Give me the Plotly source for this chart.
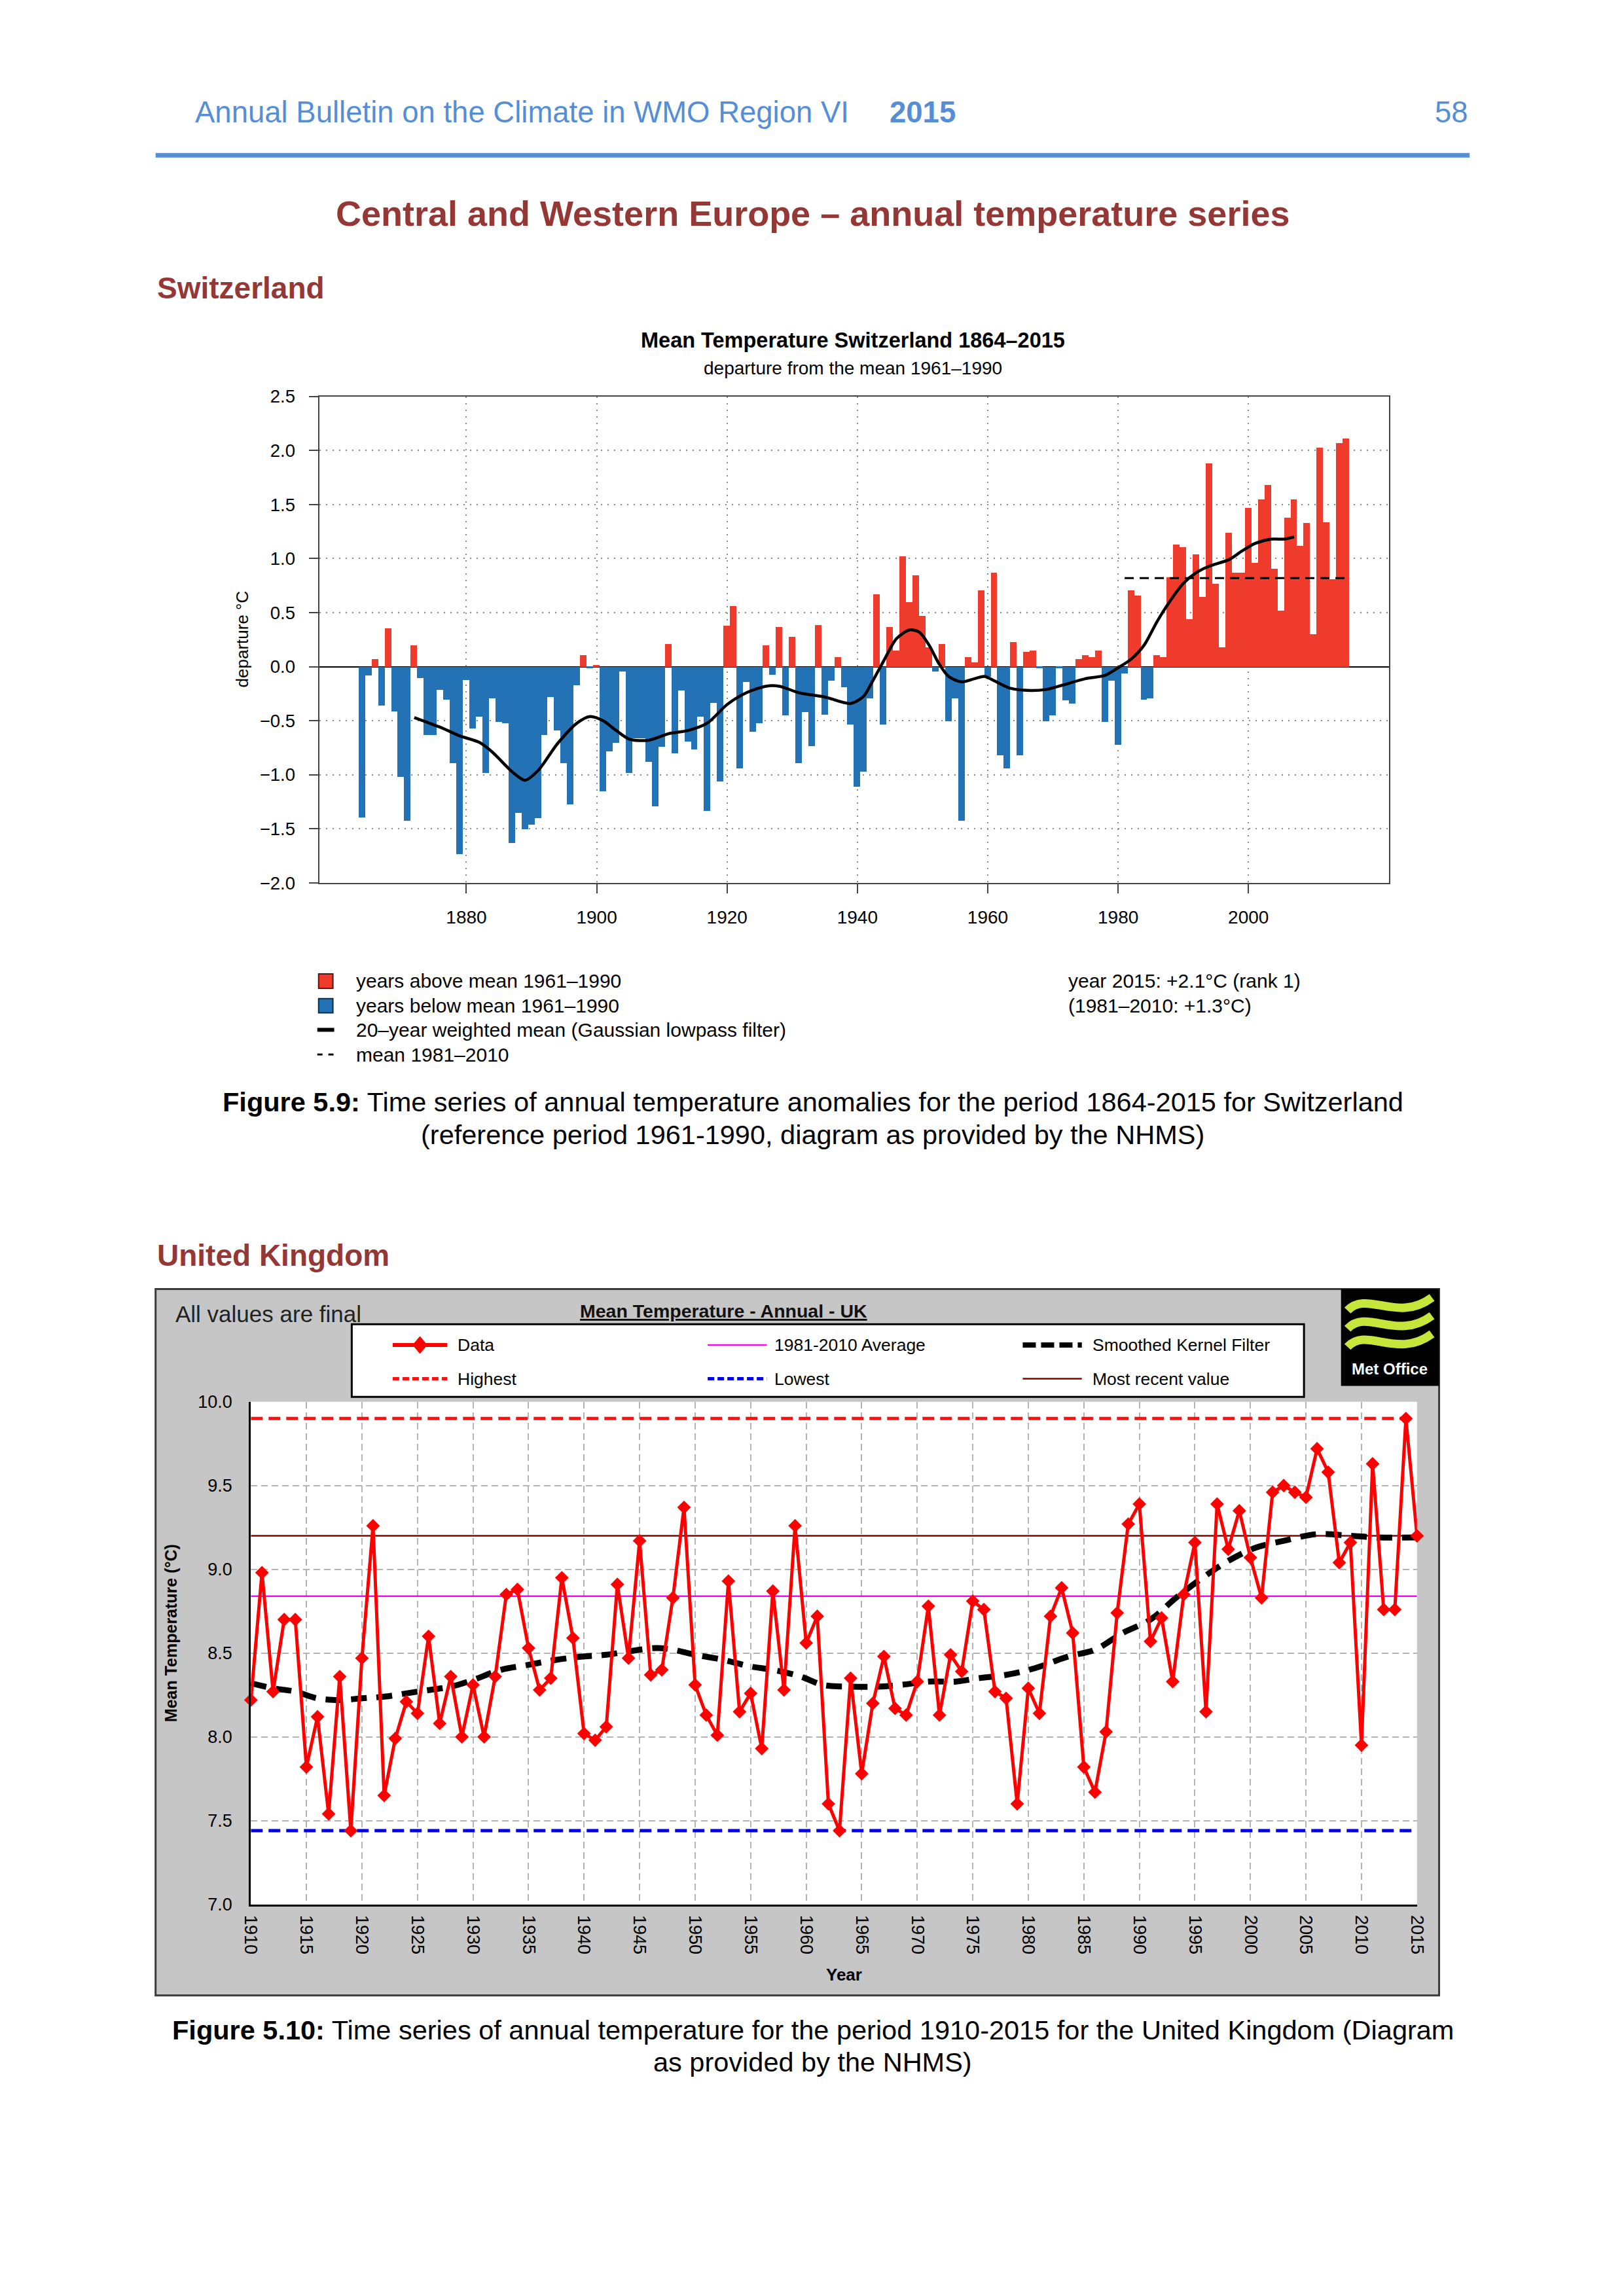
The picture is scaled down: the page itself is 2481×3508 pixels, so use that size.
import plotly.graph_objects as go

W, H = 2481, 3508

# small calibration so that page positions land where they sit on the reference page
OFF_X, SC_X = 14.6, 0.99554
OFF_Y, SC_Y = 16.2, 0.9984


def px(x):
    return ((x - OFF_X) / SC_X) / W


def py(y):
    return 1 - ((y - OFF_Y) / SC_Y) / H


SANS = "Liberation Sans, Arial, sans-serif"
NARROW = "Liberation Sans Narrow, Liberation Sans, Arial, sans-serif"

# ---------------- Switzerland data ----------------
swiss_years = list(range(1864, 2016))
swiss_anom = [
    -1.39, -0.08, 0.07, -0.36, 0.36, -0.41,                      # 1864-1869
    -1.02, -1.42, 0.20, -0.10, -0.63, -0.63, -0.21, -0.30, -0.89, -1.73,  # 1870s
    -0.12, -0.57, -0.46, -0.98, -0.29, -0.51, -0.52, -1.63, -1.35, -1.50,  # 1880s
    -1.46, -1.40, -0.63, -0.28, -0.59, -0.89, -1.27, -0.17, 0.11, -0.01,   # 1890s
    0.02, -1.15, -0.78, -0.70, -0.04, -0.98, -0.66, -0.66, -0.88, -1.29,   # 1900s
    -0.74, 0.21, -0.80, -0.22, -0.69, -0.76, -0.46, -1.33, -0.33, -1.06,   # 1910s
    0.38, 0.56, -0.94, -0.14, -0.60, -0.52, 0.20, -0.07, 0.37, -0.45,      # 1920s
    0.28, -0.89, -0.42, -0.73, 0.39, -0.44, -0.13, 0.09, -0.19, -0.53,     # 1930s
    -1.11, -0.97, -0.29, 0.67, -0.53, 0.37, 0.15, 1.02, 0.60, 0.85,        # 1940s
    0.47, 0.18, -0.04, 0.21, -0.50, -0.29, -1.42, 0.09, 0.04, 0.71,        # 1950s
    -0.09, 0.87, -0.82, -0.94, 0.23, -0.82, 0.14, 0.15, -0.01, -0.50,      # 1960s
    -0.45, -0.01, -0.31, -0.34, 0.07, 0.11, 0.09, 0.15, -0.51, -0.13,      # 1970s
    -0.72, -0.06, 0.71, 0.66, -0.30, -0.29, 0.11, 0.09, 0.83, 1.13,        # 1980s
    1.11, 0.44, 1.04, 0.65, 1.88, 0.77, 0.18, 1.24, 0.87, 0.87,            # 1990s
    1.47, 0.96, 1.55, 1.68, 0.91, 0.52, 1.38, 1.55, 1.12, 1.33,            # 2000s
    0.30, 2.03, 1.34, 0.81, 2.07, 2.11,                                    # 2010-2015
]
swiss_smooth_years = [1872, 1876, 1879, 1882, 1884, 1887, 1889, 1891, 1894, 1897, 1899,
                      1901, 1903, 1905, 1908, 1911, 1914, 1917, 1920, 1923, 1926, 1928,
                      1931, 1935, 1939, 1941, 1942, 1944, 1946, 1948, 1949.5, 1951, 1952.5,
                      1954, 1956, 1958, 1959.5, 1961, 1963.5, 1966.5, 1969, 1971.5, 1975,
                      1978, 1980, 1982, 1984, 1986, 1988, 1990, 1992, 1994, 1997, 1999,
                      2001, 2003.5, 2005.5, 2007]
swiss_smooth_vals = [-0.47, -0.56, -0.64, -0.70, -0.79, -0.97, -1.05, -0.96, -0.71, -0.52, -0.46,
                     -0.50, -0.59, -0.67, -0.68, -0.62, -0.59, -0.52, -0.35, -0.24, -0.18, -0.18,
                     -0.24, -0.28, -0.34, -0.27, -0.17, 0.05, 0.26, 0.34, 0.32, 0.20, 0.03,
                     -0.09, -0.14, -0.11, -0.09, -0.13, -0.20, -0.22, -0.21, -0.17, -0.11,
                     -0.08, -0.01, 0.07, 0.20, 0.42, 0.61, 0.77, 0.87, 0.93, 0.99, 1.07,
                     1.14, 1.18, 1.18, 1.20]
swiss_mean_period = [1981, 2015]
swiss_mean_8110 = 0.82
swiss_xticks = [1880, 1900, 1920, 1940, 1960, 1980, 2000]
swiss_yticks = [-2.0, -1.5, -1.0, -0.5, 0.0, 0.5, 1.0, 1.5, 2.0, 2.5]
swiss_yticktext = ["\u22122.0", "\u22121.5", "\u22121.0", "\u22120.5", "0.0", "0.5", "1.0", "1.5", "2.0", "2.5"]

# ---------------- United Kingdom data ----------------
uk_years = list(range(1910, 2016))
uk_temp = [
    8.22, 8.98, 8.27, 8.70, 8.70, 7.82, 8.12, 7.54, 8.36, 7.44,   # 1910s
    8.47, 9.26, 7.65, 7.99, 8.21, 8.14, 8.60, 8.08, 8.36, 8.00,   # 1920s
    8.31, 8.00, 8.36, 8.85, 8.88, 8.53, 8.28, 8.35, 8.95, 8.59,   # 1930s
    8.02, 7.98, 8.06, 8.91, 8.47, 9.17, 8.37, 8.40, 8.83, 9.37,   # 1940s
    8.31, 8.13, 8.01, 8.93, 8.15, 8.26, 7.93, 8.87, 8.28, 9.26,   # 1950s
    8.56, 8.72, 7.60, 7.44, 8.35, 7.78, 8.20, 8.48, 8.17, 8.13,   # 1960s
    8.33, 8.78, 8.13, 8.49, 8.39, 8.81, 8.76, 8.27, 8.23, 7.60,   # 1970s
    8.29, 8.14, 8.72, 8.89, 8.62, 7.82, 7.67, 8.03, 8.74, 9.27,   # 1980s
    9.39, 8.57, 8.71, 8.33, 8.85, 9.16, 8.15, 9.39, 9.12, 9.35,   # 1990s
    9.07, 8.83, 9.46, 9.50, 9.46, 9.43, 9.72, 9.58, 9.04, 9.16,   # 2000s
    7.95, 9.63, 8.76, 8.76, 9.90, 9.20,                           # 2010-2015
]
uk_smooth_years = [1910, 1912, 1914, 1916, 1918, 1920, 1922, 1925, 1928, 1930, 1932.5,
                   1935, 1937.5, 1940, 1942, 1944, 1946.5, 1948, 1950, 1952.5, 1955, 1957,
                   1959.5, 1961.5, 1964, 1966.5, 1968.5, 1971, 1973.5, 1975.5, 1978, 1980.6,
                   1983.6, 1986, 1988.5, 1991, 1993.3, 1995.7, 1998, 2000.5, 2003, 2006,
                   2009, 2011.5, 2015]
uk_smooth_vals = [8.32, 8.29, 8.27, 8.23, 8.22, 8.23, 8.24, 8.27, 8.30, 8.34, 8.40,
                  8.43, 8.46, 8.48, 8.49, 8.51, 8.53, 8.52, 8.49, 8.46, 8.42, 8.40,
                  8.36, 8.31, 8.30, 8.30, 8.31, 8.33, 8.33, 8.35, 8.37, 8.41,
                  8.48, 8.52, 8.62, 8.70, 8.83, 8.95, 9.05, 9.13, 9.17, 9.21,
                  9.20, 9.19, 9.19]
uk_avg_8110 = 8.84
uk_xticks = list(range(1910, 2016, 5))
uk_yticks = [7.0, 7.5, 8.0, 8.5, 9.0, 9.5, 10.0]

# ---------------- colours ----------------
RED_BAR = "#ee3b2c"
BLUE_BAR = "#2272b5"
HEAD_BLUE = "#558ed5"
DARK_RED = "#953735"

fig = go.Figure()

# Switzerland traces
fig.add_trace(go.Bar(
    x=swiss_years, y=swiss_anom, width=1.0,
    marker=dict(color=[RED_BAR if v > 0 else BLUE_BAR for v in swiss_anom], line=dict(width=0)),
    xaxis="x", yaxis="y", showlegend=False, hoverinfo="skip"))
fig.add_trace(go.Scatter(
    x=swiss_mean_period, y=[swiss_mean_8110] * len(swiss_mean_period), mode="lines",
    line=dict(color="black", width=3, dash="14px,9px"),
    xaxis="x", yaxis="y", showlegend=False, hoverinfo="skip"))
fig.add_trace(go.Scatter(
    x=swiss_smooth_years, y=swiss_smooth_vals, mode="lines",
    line=dict(color="black", width=4.5, shape="spline", smoothing=0.8),
    xaxis="x", yaxis="y", showlegend=False, hoverinfo="skip"))

# UK traces
uk_high = max(uk_temp)
uk_low = min(uk_temp)
uk_recent = uk_temp[-1]
uk_span = [uk_years[0], uk_years[-1]]
fig.add_trace(go.Scatter(x=uk_span, y=[uk_avg_8110] * 2, mode="lines",
                         line=dict(color="#ff00ff", width=2.5),
                         xaxis="x2", yaxis="y2", showlegend=False, hoverinfo="skip"))
fig.add_trace(go.Scatter(x=uk_span, y=[uk_recent] * 2, mode="lines",
                         line=dict(color="#8b0000", width=2.5),
                         xaxis="x2", yaxis="y2", showlegend=False, hoverinfo="skip"))
fig.add_trace(go.Scatter(x=uk_span, y=[uk_high] * 2, mode="lines",
                         line=dict(color="#ff1010", width=5, dash="18px,9px"),
                         xaxis="x2", yaxis="y2", showlegend=False, hoverinfo="skip"))
fig.add_trace(go.Scatter(x=uk_span, y=[uk_low] * 2, mode="lines",
                         line=dict(color="#0000ee", width=5, dash="18px,9px"),
                         xaxis="x2", yaxis="y2", showlegend=False, hoverinfo="skip"))
fig.add_trace(go.Scatter(x=uk_smooth_years, y=uk_smooth_vals, mode="lines",
                         line=dict(color="black", width=9, dash="24px,15px", shape="spline"),
                         xaxis="x2", yaxis="y2", showlegend=False, hoverinfo="skip"))
fig.add_trace(go.Scatter(x=uk_years, y=uk_temp, mode="lines+markers",
                         line=dict(color="#ff0000", width=5),
                         marker=dict(symbol="diamond", size=16, color="#ff0000"),
                         cliponaxis=False,
                         xaxis="x2", yaxis="y2", showlegend=False, hoverinfo="skip"))

shapes = []
annotations = []


def text(x, y, s, size, color="black", xanchor="center", bold=False, family=SANS, angle=0):
    if bold:
        s = "<b>" + s + "</b>"
    annotations.append(dict(x=px(x), y=py(y), xref="paper", yref="paper", text=s,
                            showarrow=False, xanchor=xanchor, yanchor="middle",
                            textangle=angle,
                            font=dict(size=size, color=color, family=family)))


def pline(x0, y0, x1, y1, color, width, dash=None, layer="above"):
    d = dict(type="line", xref="paper", yref="paper", x0=px(x0), y0=py(y0), x1=px(x1), y1=py(y1),
             line=dict(color=color, width=width), layer=layer)
    if dash:
        d["line"]["dash"] = dash
    shapes.append(d)


def prect(x0, y0, x1, y1, fill, lcolor=None, lwidth=0, layer="above"):
    shapes.append(dict(type="rect", xref="paper", yref="paper", x0=px(x0), y0=py(y0),
                       x1=px(x1), y1=py(y1), fillcolor=fill,
                       line=dict(color=lcolor or fill, width=lwidth), layer=layer))


def ppath(cmds, close, fill=None, lcolor="black", lwidth=1, layer="above"):
    # cmds: list of (letter, [(x, y), ...]) in pixel coordinates
    parts = []
    for cmd, pts in cmds:
        parts.append(cmd + " " + " ".join(f"{px(a):.5f},{py(b):.5f}" for a, b in pts))
    p = " ".join(parts) + (" Z" if close else "")
    d = dict(type="path", xref="paper", yref="paper", path=p,
             line=dict(color=lcolor, width=lwidth), layer=layer)
    if fill:
        d["fillcolor"] = fill
    shapes.append(d)


# ---------------- page header ----------------
text(298, 174, "Annual Bulletin on the Climate in WMO Region VI", 45.5, HEAD_BLUE, "left")
text(1367, 174, "2015", 45.5, HEAD_BLUE, "left", bold=True)
text(2262, 174, "58", 45.5, HEAD_BLUE, "right")
pline(239, 240, 2262, 240, HEAD_BLUE, 7)
text(1251, 329, "Central and Western Europe \u2013 annual temperature series", 54, DARK_RED, bold=True)
text(239, 444, "Switzerland", 46, DARK_RED, "left", bold=True)
text(239, 1933, "United Kingdom", 46, DARK_RED, "left", bold=True)

# ---------------- Swiss chart texts & legend ----------------
text(1313, 525, "Mean Temperature Switzerland 1864\u20132015", 32.5, bold=True)
text(1313, 568, "departure from the mean 1961\u20131990", 28)
text(372, 985, "departure \u00b0C", 26, angle=-90)

leg_rows = [1511, 1549, 1586, 1624]
prect(490, leg_rows[0] - 11, 512, leg_rows[0] + 11, RED_BAR, "#5a1510", 2)
prect(490, leg_rows[1] - 11, 512, leg_rows[1] + 11, BLUE_BAR, "#0d2f4d", 2)
pline(488, leg_rows[2], 514, leg_rows[2], "black", 6)
pline(488, leg_rows[3], 496, leg_rows[3], "black", 3)
pline(505, leg_rows[3], 513, leg_rows[3], "black", 3)
text(546, leg_rows[0], "years above mean 1961\u20131990", 30, xanchor="left")
text(546, leg_rows[1], "years below mean 1961\u20131990", 30, xanchor="left")
text(546, leg_rows[2], "20\u2013year weighted mean (Gaussian lowpass filter)", 30, xanchor="left")
text(546, leg_rows[3], "mean 1981\u20132010", 30, xanchor="left")
text(1642, leg_rows[0], "year 2015: +2.1\u00b0C (rank 1)", 30, xanchor="left")
text(1642, leg_rows[1], "(1981\u20132010: +1.3\u00b0C)", 30, xanchor="left")

# captions
text(1251, 1697, "<b>Figure 5.9:</b> Time series of annual temperature anomalies for the period 1864-2015 for Switzerland", 41.5)
text(1251, 1747, "(reference period 1961-1990, diagram as provided by the NHMS)", 41.5)
text(1251, 3125, "<b>Figure 5.10:</b> Time series of annual temperature for the period 1910-2015 for the United Kingdom (Diagram", 41.5)
text(1251, 3175, "as provided by the NHMS)", 41.5)

# ---------------- UK panel ----------------
prect(239, 1985, 2215, 3072, "#c6c6c6", "#3a3a3a", 3, layer="below")
shapes.append(dict(type="rect", xref="x2 domain", yref="y2 domain", x0=0, x1=1, y0=0, y1=1,
                   fillcolor="white", line=dict(width=0), layer="below"))

text(268, 2023, "All values are final", 35, "#222222", "left", family=NARROW)
text(1114, 2019, "<u>Mean Temperature - Annual - UK</u>", 28.5, "#111111", bold=True, family=NARROW)

# legend box
prect(541, 2039, 2007, 2151, "white", "black", 3)
r1, r2 = 2071, 2123
pline(604, r1, 688, r1, "#ff0000", 6)
ppath([("M", [(646, r1 - 13)]), ("L", [(657, r1)]), ("L", [(646, r1 + 13)]), ("L", [(635, r1)])],
      True, fill="#ff0000", lcolor="#ff0000", lwidth=1)
text(702, r1, "Data", 26.5, xanchor="left", family=NARROW)
pline(604, r2, 688, r2, "#ff1010", 5, dash="10px,5px")
text(702, r2, "Highest", 26.5, xanchor="left", family=NARROW)
pline(1089, r1, 1180, r1, "#ff00ff", 2.5)
text(1190, r1, "1981-2010 Average", 26.5, xanchor="left", family=NARROW)
pline(1089, r2, 1180, r2, "#0000ee", 5, dash="10px,5px")
text(1190, r2, "Lowest", 26.5, xanchor="left", family=NARROW)
pline(1574, r1, 1665, r1, "black", 8, dash="20px,8px")
text(1679, r1, "Smoothed Kernel Filter", 26.5, xanchor="left", family=NARROW)
pline(1574, r2, 1665, r2, "#8b0000", 2.5)
text(1679, r2, "Most recent value", 26.5, xanchor="left", family=NARROW)

# Met Office logo
prect(2064, 1985, 2215, 2134, "black")
for yw in (2008, 2036, 2064):
    ppath([("M", [(2074, yw + 10)]),
           ("C", [(2104, yw - 22), (2150, yw + 30), (2204, yw - 10)])], False,
          lcolor="#c6e63c", lwidth=13)
text(2139, 2108, "<b>Met Office</b>", 24, "white", family=NARROW)

# UK axis titles
text(262, 2515, "Mean Temperature (\u00b0C)", 25, bold=True, angle=-90, family=NARROW)
text(1299, 3040, "Year", 26, bold=True, family=NARROW)

fig.update_layout(
    width=W, height=H, autosize=False,
    margin=dict(l=0, r=0, t=0, b=0, pad=0),
    paper_bgcolor="white", plot_bgcolor="white",
    font=dict(family=SANS, color="black"),
    bargap=0,
    showlegend=False,
    shapes=shapes,
    annotations=annotations,
    xaxis=dict(domain=[px(491.7), px(2138.2)], range=[1857.5, 2021.6], anchor="y",
               tickmode="array", tickvals=swiss_xticks,
               showgrid=True, gridcolor="#8a8a8a", gridwidth=2, griddash="2px,8px",
               showline=True, mirror=True, linecolor="#444444", linewidth=2,
               ticks="outside", ticklen=14, tickwidth=2, tickcolor="#444444",
               ticklabelstandoff=12,
               tickfont=dict(size=28, color="black", family=SANS), zeroline=False),
    yaxis=dict(domain=[py(1360), py(611.2)], range=[-2.0, 2.5], anchor="x",
               tickmode="array", tickvals=swiss_yticks, ticktext=swiss_yticktext,
               showgrid=True, gridcolor="#8a8a8a", gridwidth=2, griddash="2px,8px",
               showline=True, mirror=True, linecolor="#444444", linewidth=2,
               ticks="outside", ticklen=14, tickwidth=2, tickcolor="#444444",
               ticklabelstandoff=16,
               tickfont=dict(size=27.5, color="black", family=SANS),
               zeroline=True, zerolinecolor="black", zerolinewidth=2),
    xaxis2=dict(domain=[px(385.7), px(2181)], range=[1910, 2015], anchor="y2",
                tickmode="array", tickvals=uk_xticks, tickangle=90,
                showgrid=True, gridcolor="#b4b4b4", gridwidth=2, griddash="10px,6px",
                showline=True, mirror=False, linecolor="black", linewidth=3,
                ticks="", ticklabelstandoff=8,
                tickfont=dict(size=27, color="black", family=SANS), zeroline=False),
    yaxis2=dict(domain=[py(2932), py(2158.5)], range=[7.0, 10.0], anchor="x2",
                tickmode="array", tickvals=uk_yticks, tickformat=".1f",
                showgrid=True, gridcolor="#b4b4b4", gridwidth=2, griddash="10px,6px",
                showline=True, mirror=False, linecolor="black", linewidth=3,
                ticks="", ticklabelstandoff=20,
                tickfont=dict(size=27, color="black", family=SANS), zeroline=False),
)

fig.write_html(
    "out.html",
    config={"displayModeBar": False},
    post_script=("document.documentElement.style.margin='0';"
                 "document.documentElement.style.overflow='hidden';"
                 "document.body.style.margin='0';document.body.style.padding='0';"
                 "document.body.style.overflow='hidden';"),
)
